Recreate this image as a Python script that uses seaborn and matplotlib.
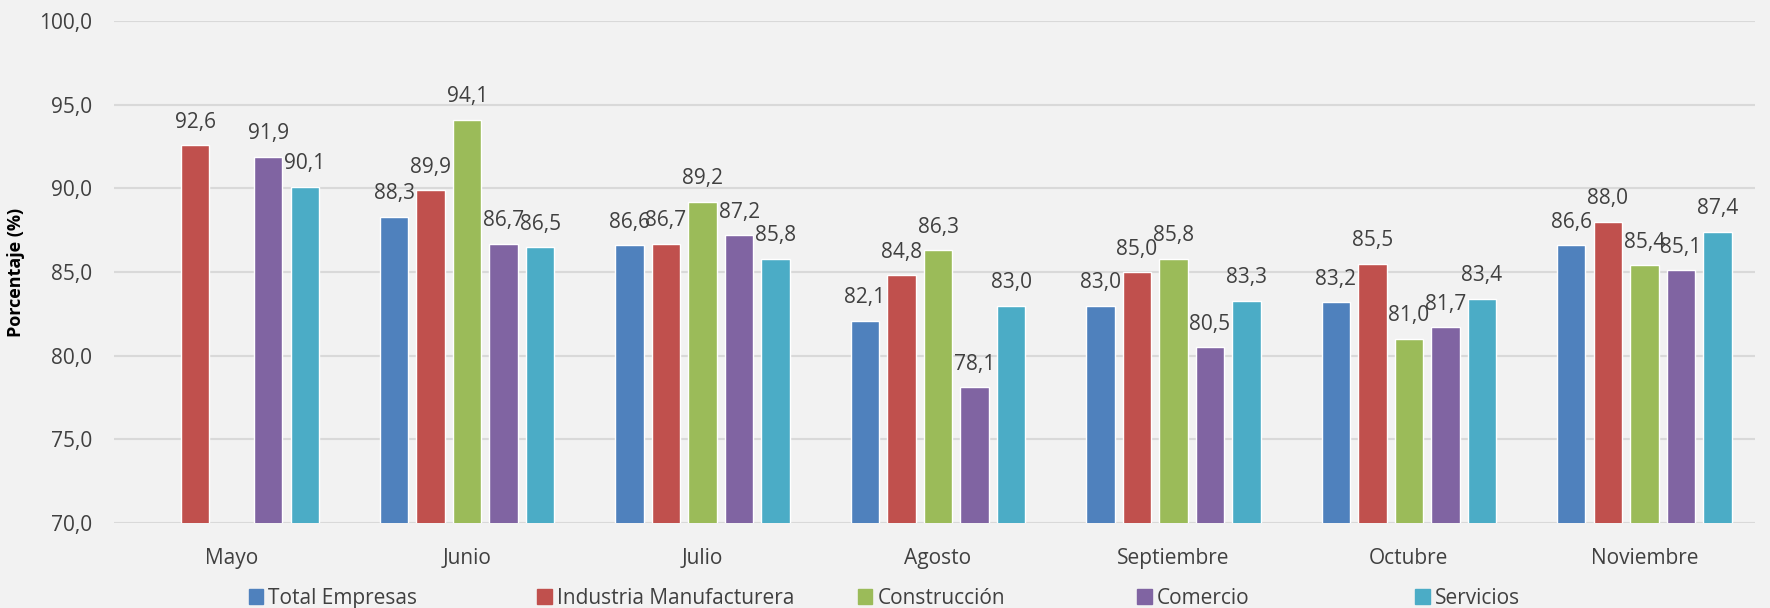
import pandas as pd
import numpy as np
import seaborn as sns
from matplotlib import pyplot as plt

months = ['Mayo', 'Junio', 'Julio', 'Agosto', 'Septiembre', 'Octubre', 'Noviembre']
sectors = ['Total Empresas', 'Industria Manufacturera', 'Construcción', 'Comercio', 'Servicios']

total_empresas = [np.nan, 88.3, 86.6, 82.1, 83.0, 83.2, 86.6]
industria = [92.6, 89.9, 86.7, 84.8, 85.0, 85.5, 88.0]
construccion = [np.nan, 94.1, 89.2, 86.3, 85.8, 81.0, 85.4]
comercio = [91.9, 86.7, 87.2, 78.1, 80.5, 81.7, 85.1]
servicios = [90.1, 86.5, 85.8, 83.0, 83.3, 83.4, 87.4]

colors = ['#4F81BD', '#C0504D', '#9BBB59', '#8064A2', '#4BACC6']
bg = '#F2F2F2'
text_color = '#404040'

# left edge of each legend entry, as a fraction of the figure width
legend_x = [0.1405, 0.3035, 0.4845, 0.6425, 0.7995]

df = pd.DataFrame({'Mes': months, sectors[0]: total_empresas, sectors[1]: industria,
                   sectors[2]: construccion, sectors[3]: comercio, sectors[4]: servicios})
df_long = df.melt(id_vars='Mes', var_name='Sector', value_name='Porcentaje')

sns.set_style('white')
plt.rcParams['font.family'] = ['Open Sans', 'DejaVu Sans']

fig, ax = plt.subplots(figsize=(17.7, 6.08), dpi=100)
fig.patch.set_facecolor(bg)
ax.set_facecolor(bg)
fig.subplots_adjust(left=0.0644, right=0.9915, top=0.965, bottom=0.14)

sns.barplot(data=df_long, x='Mes', y='Porcentaje', hue='Sector', order=months,
            hue_order=sectors, palette=colors, width=0.776, gap=0.22,
            saturation=1, errorbar=None, ax=ax, zorder=3)

for cont in ax.containers:
    labels = ['' if np.isnan(v) else f'{v:.1f}'.replace('.', ',') for v in cont.datavalues]
    ax.bar_label(cont, labels=labels, padding=9, fontsize=15, color=text_color)

ax.set_ylim(70, 100)
ax.set_xlim(-0.5, 6.47)
ax.set_yticks(np.arange(70, 100.1, 5))
ax.set_yticklabels([f'{t:.1f}'.replace('.', ',') for t in np.arange(70, 100.1, 5)],
                   fontsize=15, color=text_color)
ax.tick_params(axis='x', labelsize=15, labelcolor=text_color, length=0, pad=18)
ax.tick_params(axis='y', length=0, pad=16)
ax.yaxis.grid(True, color='#D9D9D9', linewidth=1.5, zorder=0)
ax.set_axisbelow(True)
for s in ax.spines.values():
    s.set_visible(False)

ax.set_xlabel('')
ax.set_ylabel('Porcentaje (%)', fontsize=13, fontweight='bold', color='black')
ax.yaxis.set_label_coords(-0.054, 0.5)

ax.legend_.remove()
for name, c, x in zip(sectors, colors, legend_x):
    fig.legend([plt.Rectangle((0, 0), 1, 1, color=c)], [name], loc='center left',
               bbox_to_anchor=(x, 0.016), frameon=False, fontsize=15,
               handlelength=0.7, handleheight=0.7, handletextpad=0.25,
               borderpad=0, borderaxespad=0, labelcolor=text_color)

fig.savefig('out.png', dpi=100, facecolor=bg)
